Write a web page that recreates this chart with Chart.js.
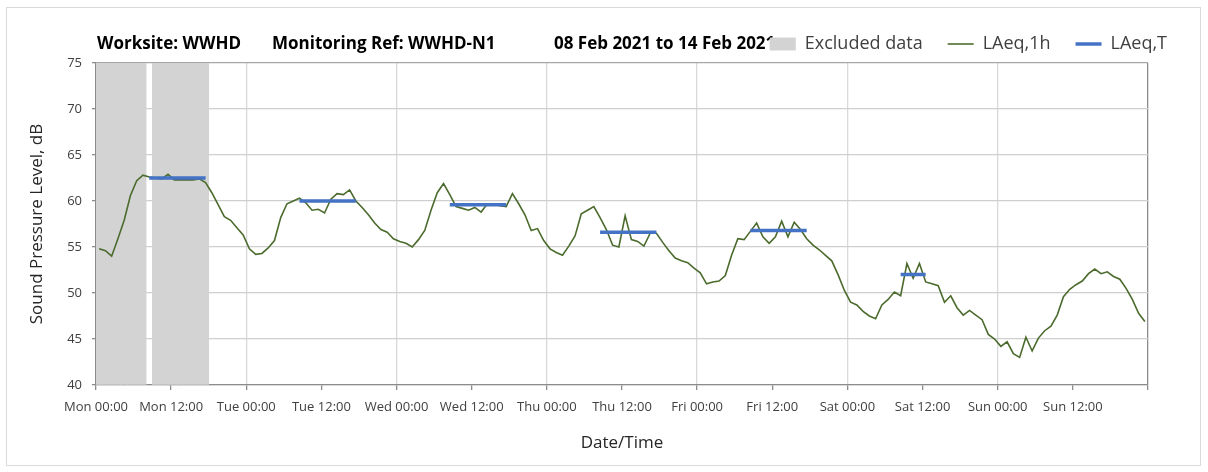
<!DOCTYPE html>
<html>
<head>
<meta charset="utf-8">
<script src="https://cdn.jsdelivr.net/npm/chart.js@4.4.1/dist/chart.umd.min.js"></script>
<style>
html, body { margin: 0; padding: 0; background: #ffffff; }
#frame { position: absolute; left: 6px; top: 7px; width: 1193px; height: 457px; border: 1px solid #d9d9d9; }
#wrap { position: absolute; left: 0; top: 0; width: 1208px; height: 472px; }
</style>
</head>
<body>
<div id="frame"></div>
<div id="wrap"><canvas id="chart" width="1208" height="472"></canvas></div>
<script>
// ---- Data ----
// Hourly LAeq,1h values, hour 0 = Mon 00:00 (08 Feb 2021)
const laeq1h = [
  54.8, 54.6, 54.0, 55.9, 57.9, 60.6, 62.2, 62.8, 62.6, 62.5, 62.4, 62.9,
  62.3, 62.3, 62.3, 62.3, 62.4, 62.0, 60.9, 59.6, 58.3, 57.9, 57.1, 56.3,
  54.8, 54.2, 54.3, 54.9, 55.7, 58.2, 59.7, 60.0, 60.3, 59.8, 59.0, 59.1,
  58.7, 60.2, 60.8, 60.7, 61.2, 60.0, 59.3, 58.5, 57.6, 56.9, 56.6, 55.9,
  55.6, 55.4, 55.0, 55.8, 56.8, 59.0, 60.9, 61.9, 60.7, 59.4, 59.2, 59.0,
  59.3, 58.8, 59.7, 59.7, 59.5, 59.4, 60.8, 59.7, 58.5, 56.8, 57.0, 55.7,
  54.8, 54.4, 54.1, 55.1, 56.2, 58.6, 59.0, 59.4, 58.2, 56.9, 55.2, 55.0,
  58.4, 55.8, 55.6, 55.1, 56.5, 56.5, 55.5, 54.6, 53.8, 53.5, 53.3, 52.7,
  52.2, 51.0, 51.2, 51.3, 51.9, 54.1, 55.9, 55.8, 56.7, 57.6, 56.1, 55.4,
  56.1, 57.8, 56.1, 57.7, 56.9, 55.9, 55.2, 54.7, 54.1, 53.5, 52.0, 50.3,
  49.0, 48.7, 48.0, 47.5, 47.2, 48.7, 49.3, 50.1, 49.7, 53.2, 51.6, 53.2,
  51.2, 51.0, 50.8, 49.0, 49.7, 48.4, 47.6, 48.1, 47.6, 47.1, 45.5, 45.0,
  44.2, 44.7, 43.4, 43.0, 45.2, 43.7, 45.1, 45.9, 46.4, 47.6, 49.6, 50.4,
  50.9, 51.3, 52.1, 52.6, 52.1, 52.3, 51.8, 51.5, 50.5, 49.3, 47.8, 46.9
];
// Daytime LAeq,T periods (first and last hour of each period)
const periodStartHour = [8, 32, 56, 80, 104, 128];
const periodEndHour   = [17, 41, 65, 89, 113, 132];
const periodLAeqT     = [62.5, 60.0, 59.6, 56.6, 56.8, 52.0];
// Hours flagged as excluded data
const excludedHours = [0, 1, 2, 3, 4, 5, 6, 7, 9, 10, 11, 12, 13, 14, 15, 16, 17];
// Axis ticks
const tickHours = [0, 12, 24, 36, 48, 60, 72, 84, 96, 108, 120, 132, 144, 156, 168];
const tickLabels = ['Mon 00:00', 'Mon 12:00', 'Tue 00:00', 'Tue 12:00', 'Wed 00:00', 'Wed 12:00',
  'Thu 00:00', 'Thu 12:00', 'Fri 00:00', 'Fri 12:00', 'Sat 00:00', 'Sat 12:00', 'Sun 00:00', 'Sun 12:00', ''];
const titleParts = ['Worksite: WWHD', 'Monitoring Ref: WWHD-N1', '08 Feb 2021 to 14 Feb 2021'];

// ---- Build library data ----
const lineData = laeq1h.map((v, i) => ({ x: i + 0.5, y: v }));
const periodData = [];
periodStartHour.forEach((s, i) => {
  periodData.push({ x: s + 0.5, y: periodLAeqT[i] });
  periodData.push({ x: periodEndHour[i] + 0.5, y: periodLAeqT[i] });
  periodData.push({ x: periodEndHour[i] + 0.6, y: null });
});
const excludedData = excludedHours.map(h => ({ x: h + 0.5, y: 75 }));

const FONT = '"Open Sans", "Noto Sans", sans-serif';
Chart.defaults.font.family = FONT;

const titlePlugin = {
  id: 'titleText',
  beforeDraw(chart) {
    const c = chart.ctx;
    const left = chart.chartArea.left;
    const offs = [1, 176, 458];
    c.save();
    c.font = 'bold 17px ' + FONT;
    c.fillStyle = '#000000';
    c.textBaseline = 'middle';
    titleParts.forEach((t, i) => c.fillText(t, left + offs[i], 44));
    c.restore();
  }
};
const legendGap = {
  id: 'legendGap',
  beforeLayout(chart) {
    const lg = chart.legend;
    if (lg && !lg._gapPatched) {
      lg.afterFit = function () { this.height += 12; };
      lg._gapPatched = true;
    }
  }
};

new Chart(document.getElementById('chart'), {
  data: {
    datasets: [
      {
        type: 'bar', label: 'Excluded data', data: excludedData,
        backgroundColor: '#d3d3d3', borderWidth: 0,
        barPercentage: 1, categoryPercentage: 1, base: 40,
        pointStyle: 'rect', order: 3
      },
      {
        type: 'line', label: 'LAeq,1h', data: lineData,
        borderColor: '#4b6b2d', backgroundColor: '#4b6b2d', borderWidth: 1.6,
        pointRadius: 0, tension: 0, pointStyle: 'line', order: 2
      },
      {
        type: 'line', label: 'LAeq,T', data: periodData,
        borderColor: '#4472c4', backgroundColor: '#4472c4', borderWidth: 3.5,
        pointRadius: 0, tension: 0, spanGaps: false, pointStyle: 'line', order: 1,
        borderCapStyle: 'butt'
      }
    ]
  },
  options: {
    responsive: false,
    animation: false,
    layout: { padding: { left: 23, right: 16, top: 10, bottom: 15 } },
    plugins: {
      tooltip: { enabled: false },
      title: { display: false },
      legend: {
        display: true, position: 'top', align: 'end',
        labels: {
          usePointStyle: true, pointStyleWidth: 26, boxHeight: 13,
          padding: 25, color: '#404040', font: { size: 18, family: FONT },
          sort: (a, b) => a.datasetIndex - b.datasetIndex
        }
      }
    },
    scales: {
      x: {
        type: 'linear', min: 0, max: 168, offset: false,
        afterBuildTicks: s => { s.ticks = tickHours.map(v => ({ value: v })); },
        afterFit: s => { s.height = 72; },
        ticks: {
          autoSkip: false, maxRotation: 0, minRotation: 0, padding: 9,
          color: '#404040', font: { size: 13 },
          callback: (v, i) => tickLabels[i]
        },
        grid: {
          offset: false,
          color: c => {
            const v = c.tick ? c.tick.value : -1;
            if (v === 168) return '#8c8c8c';
            return (v > 0 && v % 24 === 0) ? '#d9d9d9' : 'rgba(0,0,0,0)';
          },
          tickColor: '#8c8c8c', tickLength: 5, lineWidth: 1.3
        },
        border: { color: '#8c8c8c', width: 1.3 },
        title: { display: true, text: 'Date/Time', color: '#262626', font: { size: 17 } }
      },
      y: {
        min: 40, max: 75,
        afterFit: s => { s.width = 73; },
        ticks: { stepSize: 5, padding: 10, color: '#404040', font: { size: 13 } },
        grid: {
          color: c => (c.tick && c.tick.value === 75) ? '#a6a6a6' : '#cfcfcf',
          tickColor: '#8c8c8c', tickLength: 4, lineWidth: 1.3
        },
        border: { color: '#8c8c8c', width: 1.3 },
        title: { display: true, text: 'Sound Pressure Level, dB', color: '#262626', font: { size: 17 } }
      },
      yR: {
        position: 'right', display: true,
        afterFit: s => { s.width = 44; },
        ticks: { display: false },
        grid: { display: false },
        border: { display: false }
      }
    }
  },
  plugins: [titlePlugin, legendGap]
});
</script>
</body>
</html>
